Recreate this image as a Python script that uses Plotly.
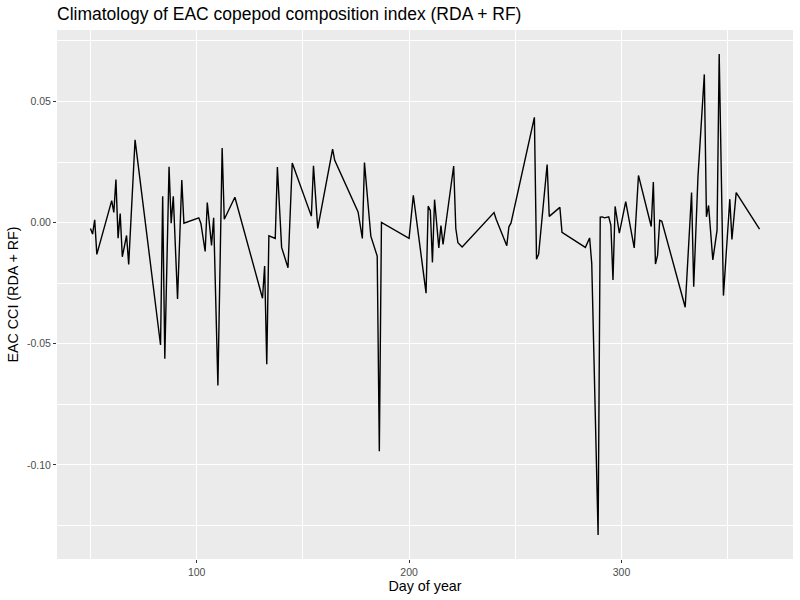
import plotly.graph_objects as go

# climatology values
day = [50, 51, 52, 53, 60, 61, 62, 63, 64, 65, 67, 68, 71, 83, 84, 85, 87, 88, 89, 91,
       93, 94, 101, 102, 104, 105, 107, 108, 110, 112, 113, 118, 131, 132, 133, 134, 137, 138, 140, 143,
       145, 154, 155, 157, 164, 165, 176, 178, 179, 182, 185, 186, 187, 200, 202, 208, 209, 210, 211, 212,
       214, 215, 216, 221, 222, 223, 225, 240, 241, 246, 247, 248, 259, 260, 261, 265, 266, 271, 272, 283,
       285, 286, 289, 290, 291, 292, 294, 295, 296, 297, 299, 302, 306, 308, 314, 315, 316, 317, 318, 319,
       330, 333, 334, 336, 339, 340, 341, 343, 345, 346, 348, 351, 352, 354, 365]
cci = [-0.0024, -0.0047, 0.0012, -0.0131, 0.0091, 0.0042, 0.0178, -0.0064, 0.0038, -0.0141,
       -0.0053, -0.0172, 0.0342, -0.0505, 0.0109, -0.0562, 0.0231, -0.0002, 0.0109, -0.0315,
       0.0176, -0.0002, 0.0020, -0.0003, -0.0119, 0.0083, -0.0094, 0.0020, -0.0672, 0.0308,
       0.0014, 0.0105, -0.0312, -0.0179, -0.0584, -0.0054, -0.0065, 0.0230, -0.0102, -0.0186,
       0.0246, 0.0027, 0.0235, -0.0024, 0.0304, 0.0257, 0.0044, -0.0065, 0.0248, -0.0056,
       -0.0138, -0.0943, 0.0001, -0.0065, 0.0113, -0.0291, 0.0068, 0.0051, -0.0164, 0.0095,
       -0.0104, -0.0012, -0.0090, 0.0234, -0.0024, -0.0083, -0.0100, 0.0042, 0.0014, -0.0095,
       -0.0017, -0.0001, 0.0435, -0.0151, -0.0130, 0.0240, 0.0026, 0.0063, -0.0040, -0.0102,
       -0.0063, -0.0168, -0.1289, 0.0023, 0.0024, 0.0020, 0.0024, -0.0010, -0.0237, 0.0067,
       -0.0043, 0.0087, -0.0104, 0.0195, -0.0016, 0.0168, -0.0171, -0.0134, 0.0010, 0.0006,
       -0.0349, 0.0124, -0.0264, 0.0188, 0.0612, 0.0024, 0.0071, -0.0154, -0.0031, 0.0696,
       -0.0301, 0.0097, -0.0069, 0.0124, -0.0027]

x_ticks = [100, 200, 300]
y_ticks = [-0.10, -0.05, 0.00, 0.05]
y_labels = ['-0.10', '-0.05', '0.00', '0.05']

# ggplot-like 5% padding
xpad = (max(day) - min(day)) * 0.05
ypad = (max(cci) - min(cci)) * 0.05

fig = go.Figure()
fig.add_trace(go.Scatter(
    x=day, y=cci,
    mode='lines',
    line=dict(color='black', width=1.4),
    showlegend=False,
))

axis_common = dict(
    showgrid=True, gridcolor='white', gridwidth=1.1,
    zeroline=False, showline=False,
    ticks='outside', ticklen=3, tickcolor='#333333', tickwidth=1.1,
    tickfont=dict(family='Liberation Sans, Arial', size=10.5, color='#4d4d4d'),
)

fig.update_layout(
    width=800, height=600,
    margin=dict(l=57, r=7, t=30, b=41),
    paper_bgcolor='white',
    plot_bgcolor='#ebebeb',
    font=dict(family='Liberation Sans, Arial', color='black'),
    title=dict(
        text='Climatology of EAC copepod composition index (RDA + RF)',
        x=0, xref='paper', xanchor='left',
        y=1 - 13.5 / 600, yref='container', yanchor='middle',
        font=dict(size=17.5, color='black'),
    ),
    xaxis=dict(
        axis_common,
        range=[min(day) - xpad, max(day) + xpad],
        tickvals=x_ticks,
        minor=dict(dtick=50, tick0=0, showgrid=True, gridcolor='white', gridwidth=0.55, ticks=''),
        title=dict(text='Day of year', font=dict(size=14.3, color='black'), standoff=3),
    ),
    yaxis=dict(
        axis_common,
        range=[min(cci) - ypad, max(cci) + ypad],
        tickvals=y_ticks, ticktext=y_labels,
        minor=dict(dtick=0.025, tick0=0, showgrid=True, gridcolor='white', gridwidth=0.55, ticks=''),
        title=dict(text='EAC CCI (RDA + RF)', font=dict(size=14.3, color='black'), standoff=4),
    ),
)

fig.write_html('out.html', config={'displayModeBar': False},
               post_script="document.body.style.margin='0px';")
